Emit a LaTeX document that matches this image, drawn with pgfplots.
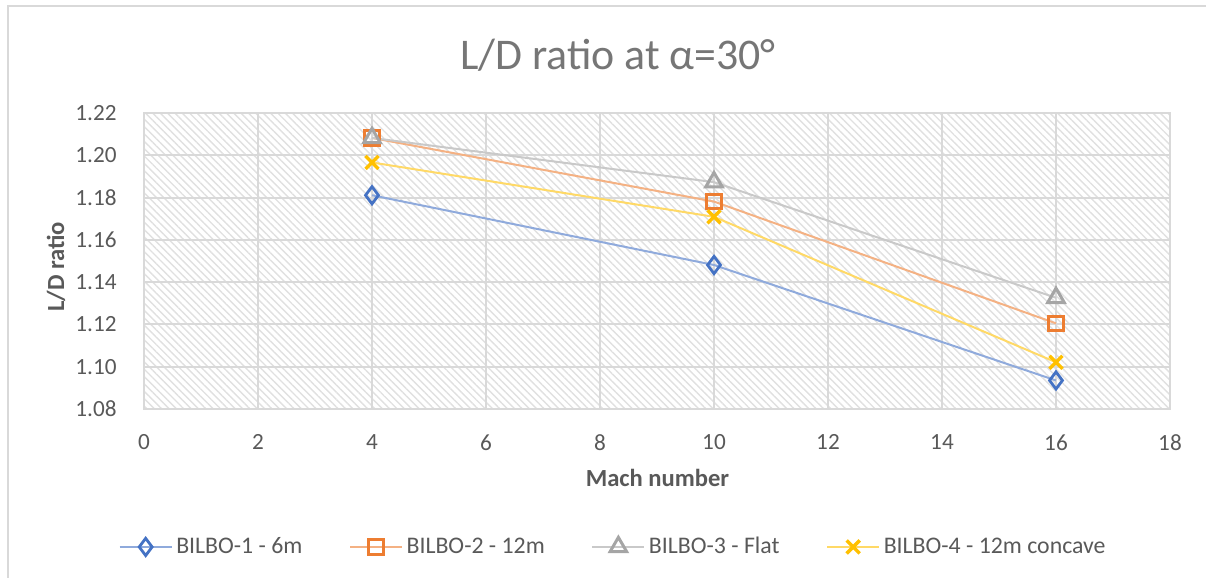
\documentclass[border=0pt]{standalone}
\usepackage{fontspec}
\setmainfont{Carlito}
\usepackage{pgfplots}
\pgfplotsset{compat=1.18}
\usetikzlibrary{patterns.meta}
\definecolor{bmk}{HTML}{4472C4}\definecolor{bln}{HTML}{8FAADC}
\definecolor{omk}{HTML}{ED7D31}\definecolor{oln}{HTML}{F4B183}
\definecolor{gmk}{HTML}{A5A5A5}\definecolor{gln}{HTML}{C9C9C9}
\definecolor{ymk}{HTML}{FFC000}\definecolor{yln}{HTML}{FFD966}
\definecolor{txt}{HTML}{595959}
\definecolor{ttl}{HTML}{767676}
\definecolor{grd}{HTML}{D9D9D9}
\begin{document}
\begin{tikzpicture}
\useasboundingbox (0,0) rectangle (603pt,289pt);
\draw[grd, line width=1pt] (3.75pt,0pt) -- (3.75pt,286pt) -- (603pt,286pt);
\node[ttl, anchor=base, font=\fontsize{21.9}{26}\selectfont] at (309pt,254pt) {L/D ratio at α=30°};
\node[txt, font=\fontsize{12.3}{15}\selectfont\bfseries] at (328.75pt,50pt) {Mach number};
\node[txt, rotate=90, font=\fontsize{12.3}{15}\selectfont\bfseries] at (28pt,155.5pt) {L/D ratio};
\begin{axis}[
  at={(72pt,84.5pt)}, anchor=south west,
  scale only axis, width=513pt, height=148pt,
  xmin=0, xmax=18, ymin=1.08, ymax=1.22,
  xtick={0,2,...,18},
  ytick={1.08,1.10,1.12,1.14,1.16,1.18,1.20,1.22},
  grid=major,
  major grid style={grd, line width=1pt},
  axis line style={grd, line width=1pt},
  major tick length=0pt,
  axis background/.style={pattern={Lines[angle=-45,distance=2.6pt,line width=0.7pt]}, pattern color=black!12},
  /pgf/number format/assume math mode=true,
  ticklabel style={txt, font=\fontsize{11.6}{14}\selectfont},
  yticklabel style={/pgf/number format/fixed, /pgf/number format/precision=2, /pgf/number format/fixed zerofill, inner sep=0pt, anchor=east, xshift=-13.5pt},
  xticklabel style={inner sep=0pt, anchor=north, yshift=-12.5pt},
  legend columns=4,
  legend cell align=left,
  legend style={at={(0.458,-0.466)}, anchor=center, draw=none, fill=none,
    font=\fontsize{11.9}{14}\selectfont, text=txt,
    nodes={inner sep=1.8pt},
    /tikz/every even column/.append style={column sep=21.5pt}},
  legend image code/.code={\draw[mark repeat=2,mark phase=2,#1] plot coordinates {(0pt,0pt)(13pt,0pt)(26pt,0pt)};},
]
\addplot[bln, line width=1pt, mark=diamond, mark size=4.3pt, mark options={draw=bmk, fill=white, line width=1.4pt}]
  coordinates {(4,1.1811) (10,1.1481) (16,1.0935)};
\addlegendentry{BILBO-1 - 6m}
\addplot[oln, line width=1pt, mark=square, mark size=3.6pt, mark options={draw=omk, fill=white, line width=1.6pt}]
  coordinates {(4,1.2082) (10,1.1781) (16,1.1205)};
\addlegendentry{BILBO-2 - 12m}
\addplot[gln, line width=1pt, mark=triangle, mark size=4.8pt, mark options={draw=gmk, fill=white, line width=1.5pt}]
  coordinates {(4,1.2082) (10,1.1873) (16,1.1326)};
\addlegendentry{BILBO-3 - Flat}
\addplot[yln, line width=1pt, mark=x, mark size=4.6pt, mark options={draw=ymk, line width=1.7pt}]
  coordinates {(4,1.1966) (10,1.1709) (16,1.1021)};
\addlegendentry{BILBO-4 - 12m concave}
\end{axis}
\end{tikzpicture}
\end{document}
